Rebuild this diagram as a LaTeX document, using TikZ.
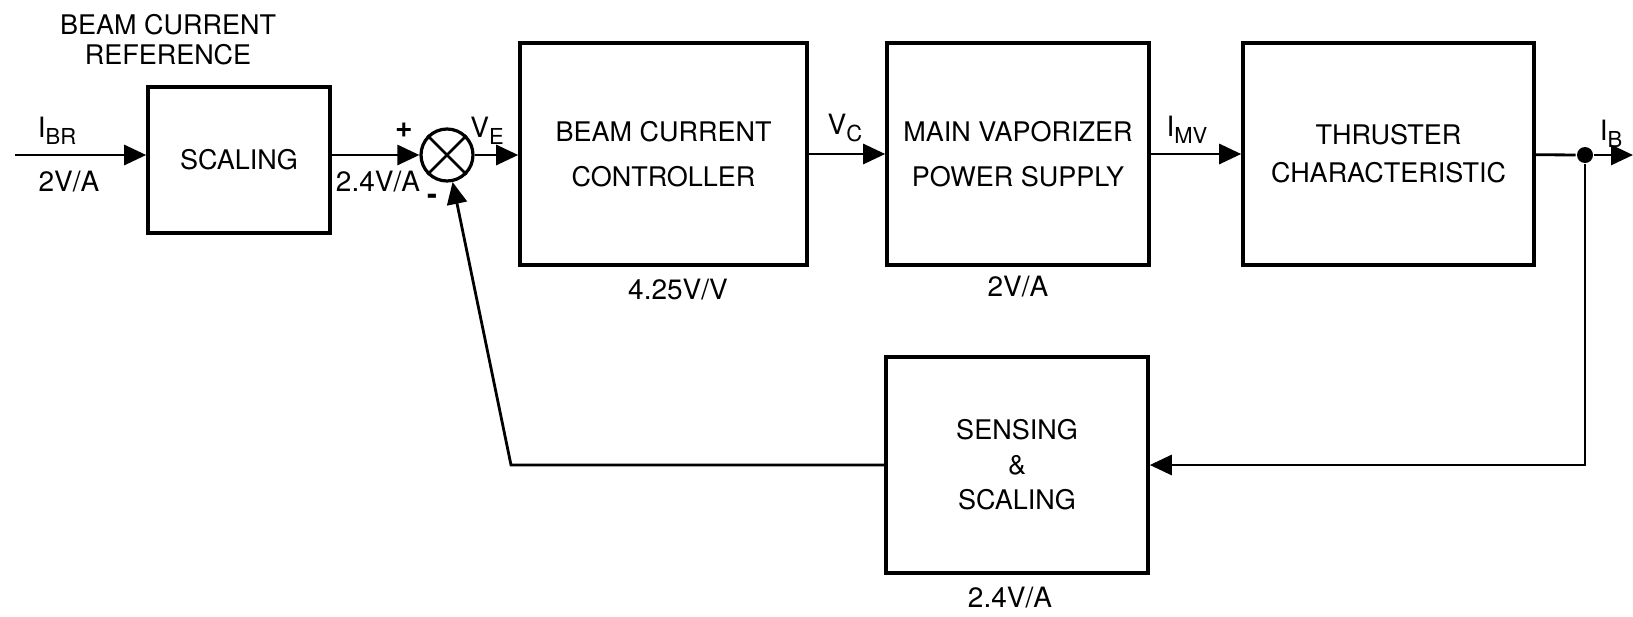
\documentclass[tikz,border=0pt]{standalone}
\usepackage{fontspec}
\setmainfont{TeX Gyre Heros}
\usetikzlibrary{arrows.meta,positioning}
\newcommand{\sigvar}[2]{#1\raisebox{-0.45ex}{\fontsize{11}{11}\selectfont #2}}

\begin{document}
\begin{tikzpicture}[x=0.5pt,y=-0.5pt,line width=1.4pt,>={Triangle[length=11pt,width=10pt]},
    block/.style={draw,line width=1.8pt,inner sep=0pt,align=center},
    lbl/.style={inner sep=0pt,font=\fontsize{14}{15}\selectfont}]
  \useasboundingbox (0,0) rectangle (1633,616);
  \node[block,minimum width=91pt,minimum height=73pt,font=\fontsize{13.5}{15}\selectfont] (scale) at (239,160) {SCALING};
  \node[circle,draw,line width=1.6pt,minimum size=26pt,inner sep=0pt] (sum) at (447,155) {};
  \node[block,minimum width=143.5pt,minimum height=111pt,font=\fontsize{13.5}{22.5}\selectfont] (bcc) at (663.5,154) {BEAM CURRENT\\CONTROLLER};
  \node[block,minimum width=131pt,minimum height=111pt,font=\fontsize{13.5}{22.5}\selectfont] (mvps) at (1018,154) {MAIN VAPORIZER\\POWER SUPPLY};
  \node[block,minimum width=145.5pt,minimum height=111pt,font=\fontsize{13.5}{19}\selectfont] (thr) at (1388.5,154) {THRUSTER\\CHARACTERISTIC};
  \node[block,minimum width=131pt,minimum height=108pt,font=\fontsize{13.5}{17.5}\selectfont] (sens) at (1017,465) {SENSING\\\&\\SCALING};
  \node[circle,fill,inner sep=0pt,minimum size=8pt] (tap) at (1585,155) {};
  \coordinate (in) at (15,155);
  \coordinate (out) at (1633,155);
  \coordinate (fb) at (511,466);

  \draw (sum.north west) -- (sum.south east);
  \draw (sum.north east) -- (sum.south west);

  \draw[->] (in) -- (in -| scale.west);
  \draw[->] (scale.east |- sum) -- (sum);
  \draw[->] (sum) -- (sum -| bcc.west);
  \draw[->] (bcc) -- (mvps);
  \draw[->] (mvps) -- (thr);
  \draw (thr) -- (tap);
  \draw[->] (tap) -- (out);
  \draw[->] (tap) |- (sens.east);
  \draw[->] (sens.west) -- (sens.west -| fb) -- (sum);

  \node[lbl,align=center,font=\fontsize{13.5}{15}\selectfont] (ref) at (168,40) {BEAM CURRENT\\REFERENCE};
  \node[lbl] (ibr) at (57,131) {\sigvar{I}{BR}};
  \node[lbl] (g1) at (69,182) {2V/A};
  \node[lbl] (g2) at (378,182) {2.4V/A};
  \node[lbl,font=\bfseries\fontsize{15}{15}\selectfont] (plus) at (404,130) {+};
  \node[lbl,font=\bfseries\fontsize{15}{15}\selectfont] (minus) at (432,199) {-};
  \node[lbl] (ve) at (487,131) {\sigvar{V}{E}};
  \node[lbl] (vc) at (845,128) {\sigvar{V}{C}};
  \node[lbl] (imv) at (1187,130) {\sigvar{I}{MV}};
  \node[lbl] (ib) at (1611,134) {\sigvar{I}{B}};
  \node[lbl] (g3) at (678,290) {4.25V/V};
  \node[lbl] (g4) at (1018,287) {2V/A};
  \node[lbl] (g5) at (1010,598) {2.4V/A};
\end{tikzpicture}
\end{document}
